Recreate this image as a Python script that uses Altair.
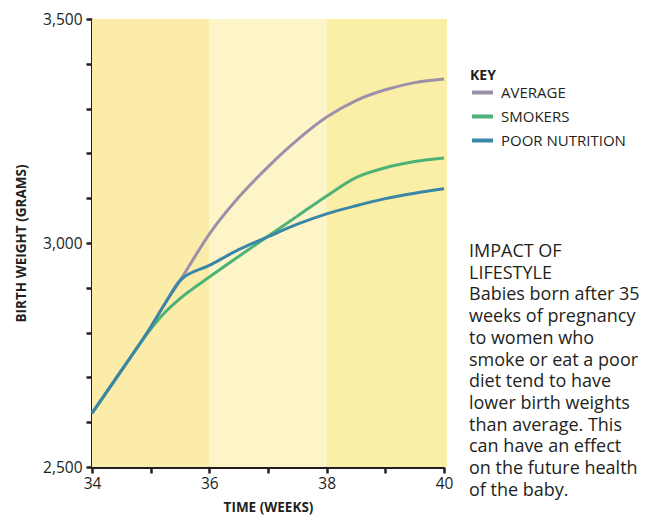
import altair as alt
import pandas as pd

# ---- data ----
weeks = [34, 34.5, 35, 35.25, 35.5, 36, 36.5, 37, 37.5, 38, 38.5, 39, 39.5, 40]
average = [2620, 2715, 2812, 2866, 2916, 3020, 3102, 3170, 3230, 3281, 3318, 3342, 3358, 3366]
smokers = [2620, 2715, 2808, 2846, 2876, 2924, 2970, 3015, 3060, 3105, 3146, 3168, 3182, 3190]
poor_nutrition = [2620, 2715, 2812, 2866, 2916, 2950, 2985, 3014, 3042, 3065, 3083, 3099, 3111, 3121]

series_names = ["AVERAGE", "SMOKERS", "POOR NUTRITION"]
series_colors = ["#9d90aa", "#4cb276", "#3a86a6"]

band_start = [34, 36, 38]
band_end = [36, 38, 40.05]
band_fill = ["#fcecaa", "#fdf4c8", "#fbeea6"]

x_ticks = [34, 35, 36, 37, 38, 39, 40]
y_ticks = list(range(2500, 3501, 100))

note_lines = [
    "IMPACT OF",
    "LIFESTYLE",
    "Babies born after 35",
    "weeks of pregnancy",
    "to women who",
    "smoke or eat a poor",
    "diet tend to have",
    "lower birth weights",
    "than average. This",
    "can have an effect",
    "on the future health",
    "of the baby.",
]

INK = "#231f20"
FONT = "Open Sans"

rows = []
for name, vals in zip(series_names, [average, smokers, poor_nutrition]):
    for w, v in zip(weeks, vals):
        rows.append({"week": w, "weight": v, "series": name})
lines_df = pd.DataFrame(rows)

bands_df = pd.DataFrame({"x0": band_start, "x1": band_end, "fill": band_fill,
                         "y0": [2500] * 3, "y1": [3500] * 3})

x_scale = alt.Scale(domain=[34, 40], nice=False, zero=False)
y_scale = alt.Scale(domain=[2500, 3500], nice=False, zero=False)

bands = alt.Chart(bands_df).mark_rect().encode(
    x=alt.X("x0:Q", scale=x_scale,
            axis=alt.Axis(values=x_ticks, title="TIME (WEEKS)",
                          labelExpr="datum.value % 2 == 0 ? datum.value : ''",
                          format="d", labelFlush=False,
                          titleX=176, titleY=40, titleBaseline="middle", titleAlign="center")),
    x2="x1:Q",
    y=alt.Y("y0:Q", scale=y_scale,
            axis=alt.Axis(values=y_ticks, title="BIRTH WEIGHT (GRAMS)",
                          labelExpr="datum.value % 500 == 0 ? format(datum.value, ',') : ''",
                          labelFlush=False,
                          titleX=-71, titleY=224, titleAngle=270,
                          titleBaseline="middle", titleAlign="center")),
    y2="y1:Q",
    color=alt.Color("fill:N", scale=None),
)

lines = alt.Chart(lines_df).mark_line(strokeWidth=3, interpolate="monotone").encode(
    x=alt.X("week:Q", scale=x_scale),
    y=alt.Y("weight:Q", scale=y_scale),
    color=alt.Color(
        "series:N",
        scale=alt.Scale(domain=series_names, range=series_colors),
        sort=series_names,
        legend=alt.Legend(
            title="KEY", orient="none", legendX=378, legendY=50,
            symbolType="stroke", symbolStrokeWidth=4, symbolSize=440,
            titleFontSize=14, titleFontWeight="bold", titleColor=INK, titleFont=FONT,
            labelFontSize=15, labelColor=INK, labelFont=FONT,
            rowPadding=3, titlePadding=-3, labelOffset=6,
        ),
    ),
    order=alt.Order("week:Q"),
)

note = alt.Chart(pd.DataFrame({"t": ["\n".join(note_lines)]})).mark_text(
    align="left", baseline="top", lineBreak="\n", lineHeight=21.7,
    fontSize=18, font=FONT, color=INK,
).encode(text="t:N", x=alt.value(377), y=alt.value(224))

chart = alt.layer(bands, lines, note).properties(
    width=352, height=448,
    padding={"left": 84, "top": 11, "right": 200, "bottom": 49},
    autosize=alt.AutoSizeParams(type="none"),
).configure_view(stroke=None).configure_axis(
    domainColor=INK, domainWidth=3, tickColor=INK, tickWidth=2.5, tickSize=6,
    grid=False, labelFont=FONT, labelFontSize=15.5, labelColor=INK,
    titleFont=FONT, titleFontSize=13.5, titleFontWeight="bold", titleColor=INK,
).configure_axisY(labelPadding=4).configure_axisX(labelPadding=3)

chart.save("out.html", embed_options={"renderer": "svg", "actions": False})
